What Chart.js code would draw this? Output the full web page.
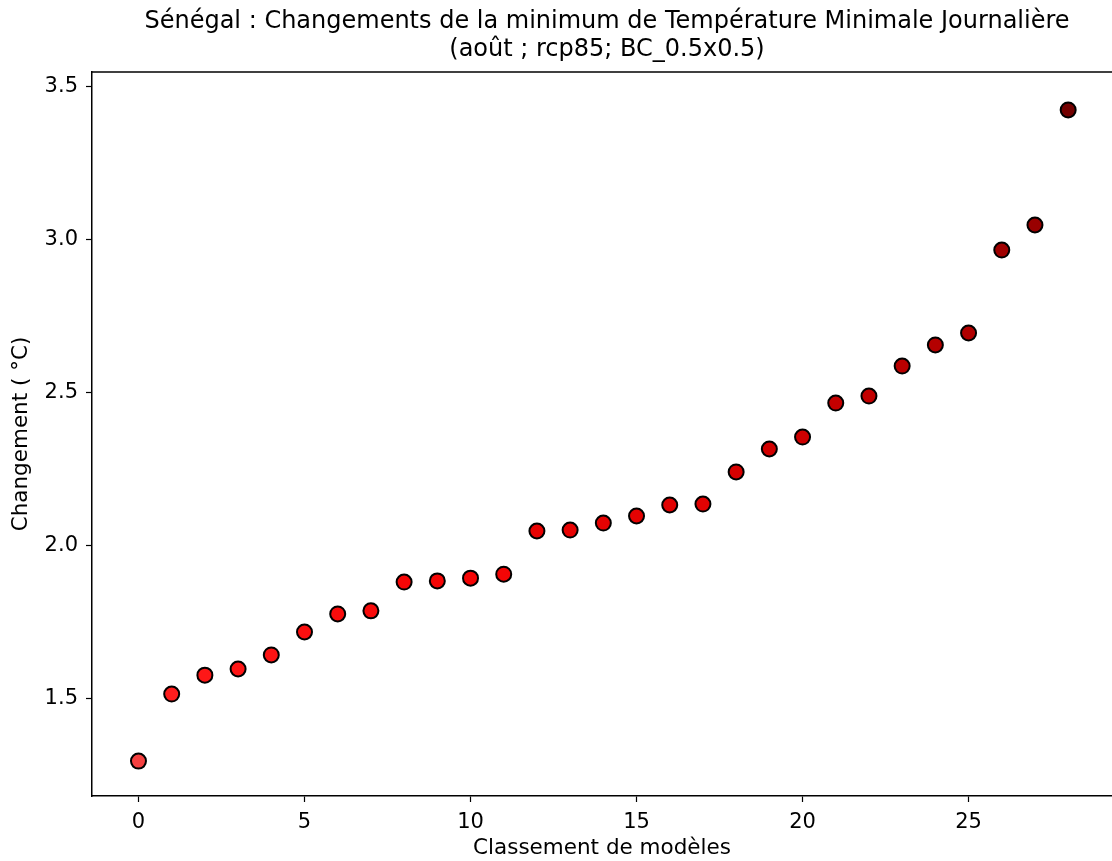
<!DOCTYPE html>
<html>
<head>
<meta charset="utf-8">
<script src="https://cdn.jsdelivr.net/npm/chart.js@4"></script>
<style>
  html, body { margin: 0; padding: 0; background: #fff; overflow: hidden; }
  #wrap { width: 1112px; height: 861px; }
</style>
</head>
<body>
<div id="wrap"><canvas id="mycanvas"></canvas></div>
<script>
// chart data
var titleLines = ['Sénégal : Changements de la minimum de Température Minimale Journalière', '(août ; rcp85; BC_0.5x0.5)'];
var rank = [0,1,2,3,4,5,6,7,8,9,10,11,12,13,14,15,16,17,18,19,20,21,22,23,24,25,26,27,28];
var change = [1.297,1.516,1.578,1.598,1.644,1.719,1.778,1.788,1.882,1.886,1.895,1.908,2.049,2.052,2.075,2.098,2.134,2.137,2.242,2.317,2.356,2.467,2.490,2.588,2.657,2.696,2.967,3.049,3.425];
var xTicks = [0,5,10,15,20,25];
var yTicks = [1.5,2.0,2.5,3.0,3.5];

var FONT = 'DejaVu Sans';

// colour ramp: light red -> red -> dark red, picked by value
var stops = [[1.3,[245,65,65]],[1.55,[255,25,25]],[1.9,[245,5,5]],[2.25,[215,0,0]],[2.65,[180,0,0]],[3.0,[158,0,0]],[3.42,[115,0,0]]];
function ramp(v){
	if (v <= stops[0][0]) return 'rgb(' + stops[0][1].join(',') + ')';
	for (var i = 1; i < stops.length; i++) {
		if (v <= stops[i][0]) {
			var a = stops[i-1], b = stops[i];
			var t = (v - a[0]) / (b[0] - a[0]);
			var c = a[1].map(function(x, k){ return Math.round(x + (b[1][k] - x) * t); });
			return 'rgb(' + c.join(',') + ')';
		}
	}
	return 'rgb(' + stops[stops.length-1][1].join(',') + ')';
}

var points = rank.map(function(r, i){ return {x: r, y: change[i]}; });

// title centred over the plot area + top frame line
var framePlugin = {
	id: 'frame',
	afterDraw: function(chart){
		var ctx = chart.ctx, a = chart.chartArea;
		ctx.save();
		ctx.strokeStyle = '#000';
		ctx.lineWidth = 1.5;
		ctx.beginPath();
		ctx.moveTo(a.left, a.top);
		ctx.lineTo(a.right, a.top);
		ctx.stroke();
		ctx.fillStyle = '#000';
		ctx.font = '24px "' + FONT + '"';
		ctx.textAlign = 'center';
		ctx.textBaseline = 'middle';
		var cx = 607;
		ctx.fillText(titleLines[0], cx, 22);
		ctx.fillText(titleLines[1], cx, 50);
		ctx.restore();
	}
};

var ctx = document.getElementById('mycanvas');
new Chart(ctx, {
	type: 'scatter',
	data: {
		datasets: [{
			data: points,
			pointRadius: 7.5,
			pointHoverRadius: 7.5,
			pointBorderWidth: 2,
			pointBorderColor: '#000',
			pointBackgroundColor: change.map(ramp)
		}]
	},
	plugins: [framePlugin],
	options: {
		responsive: true,
		maintainAspectRatio: false,
		animation: false,
		events: [],
		layout: { autoPadding: false, padding: { top: 72, left: 0, right: 0, bottom: 0 } },
		plugins: {
			legend: { display: false },
			title: { display: false },
			tooltip: { enabled: false }
		},
		scales: {
			x: {
				type: 'linear',
				min: -1.4,
				max: 29.32,
				afterBuildTicks: function(s){ s.ticks = xTicks.map(function(v){ return {value: v}; }); },
				afterFit: function(s){ s.height = 65; },
				grid: { drawOnChartArea: false, drawTicks: true, tickLength: 6, tickColor: '#000', tickWidth: 1.2 },
				border: { display: true, color: '#000', width: 1.5 },
				ticks: { color: '#000', padding: 8, font: { family: FONT, size: 21 }, maxRotation: 0, autoSkip: false },
				title: { display: true, text: 'Classement de modèles', color: '#000', font: { family: FONT, size: 21.5 }, padding: { top: 0, bottom: 0 } }
			},
			y: {
				type: 'linear',
				min: 1.183,
				max: 3.549,
				afterBuildTicks: function(s){ s.ticks = yTicks.map(function(v){ return {value: v}; }); },
				afterFit: function(s){ s.width = 92; },
				grid: { drawOnChartArea: false, drawTicks: true, tickLength: 6, tickColor: '#000', tickWidth: 1.2 },
				border: { display: true, color: '#000', width: 1.5 },
				ticks: { color: '#000', padding: 8, font: { family: FONT, size: 21 }, autoSkip: false,
					callback: function(v){ return Number(v).toFixed(1); } },
				title: { display: true, text: 'Changement ( °C)', color: '#000', font: { family: FONT, size: 21.5 }, padding: { top: 9, bottom: 0 } }
			}
		}
	}
});
</script>
</body>
</html>
